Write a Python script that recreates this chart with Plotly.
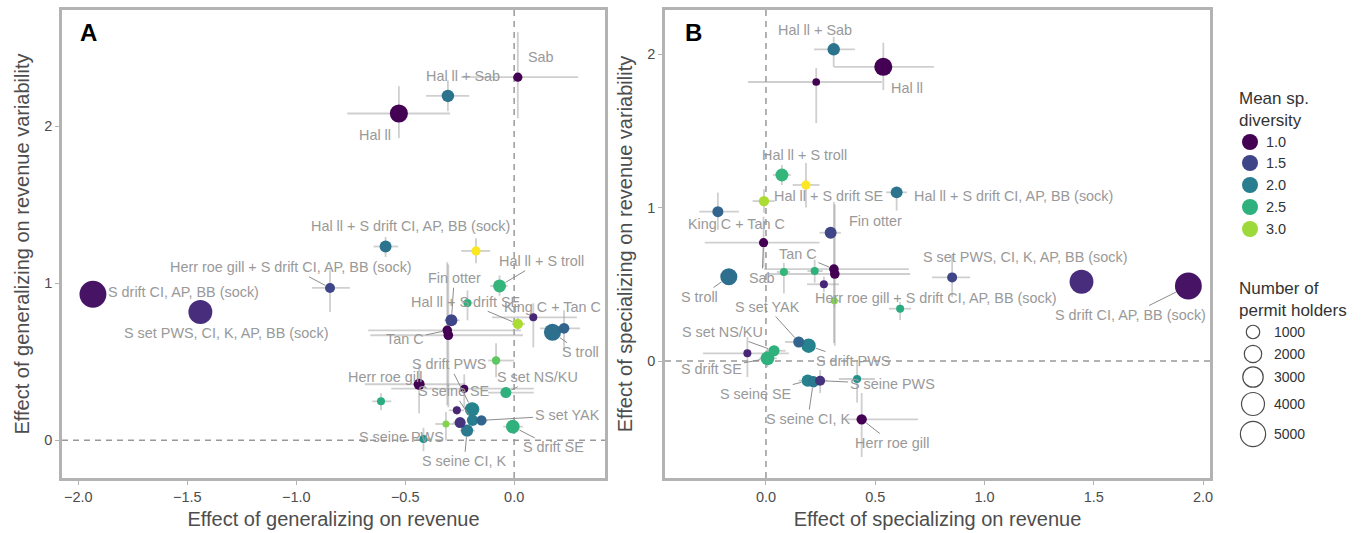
import numpy as np
import plotly.graph_objects as go

# ---------------- DATA ----------------
# Panel A: effect of generalizing
A_name = ["S drift CI, AP, BB (sock)", "S set PWS, CI, K, AP, BB (sock)",
          "Herr roe gill + S drift CI, AP, BB (sock)", "Hal ll", "Hal ll + Sab", "Sab",
          "Hal ll + S drift CI, AP, BB (sock)", "", "Hal ll + S troll", "", "Fin otter",
          "Hal ll + S drift SE", "", "S troll", "King C + Tan C", "Tan C", "", "S drift PWS",
          "", "Herr roe gill", "", "S set NS/KU", "", "", "S seine SE", "S set YAK", "", "",
          "S seine CI, K", "S drift SE", "S seine PWS"]
A_x = [-1.933, -1.440, -0.845, -0.529, -0.304, 0.017, -0.590, -0.175, -0.067, -0.214, -0.288,
       0.017, 0.088, 0.176, 0.229, -0.307, -0.302, -0.193, -0.083, -0.436, -0.229, -0.038,
       -0.611, -0.263, -0.191, -0.150, -0.248, -0.313, -0.216, -0.006, -0.416]
A_y = [0.930, 0.817, 0.970, 2.081, 2.193, 2.312, 1.234, 1.206, 0.983, 0.875, 0.764, 0.741,
       0.783, 0.688, 0.713, 0.700, 0.669, 0.197, 0.508, 0.357, 0.329, 0.304, 0.248, 0.191,
       0.127, 0.127, 0.113, 0.104, 0.062, 0.087, 0.008]
A_xlo = [-1.933, -1.440, -0.928, -0.766, -0.404, -0.243, -0.645, -0.243, -0.110, -0.240, -0.320,
         -0.010, -0.102, 0.176, 0.119, -0.670, -0.660, -0.220, -0.119, -0.685, -0.564, -0.120,
         -0.651, -0.300, -0.210, -0.180, -0.280, -0.362, -0.250, -0.050, -0.450]
A_xhi = [-1.933, -1.440, -0.754, -0.294, -0.206, 0.294, -0.532, -0.110, -0.030, -0.190, -0.250,
         0.050, 0.288, 0.176, 0.303, 0.032, 0.040, -0.160, 0.000, -0.225, 0.090, 0.090,
         -0.564, -0.230, -0.170, -0.120, -0.220, -0.257, -0.180, 0.040, -0.380]
A_ylo = [0.930, 0.817, 0.817, 1.924, 2.096, 2.051, 1.167, 1.127, 0.920, 0.764, 0.730, 0.700,
         0.592, 0.688, 0.573, 0.223, 0.210, 0.160, 0.401, 0.172, 0.210, 0.270, 0.191, 0.160,
         0.100, 0.100, 0.080, 0.000, 0.030, 0.050, -0.070]
A_yhi = [0.930, 0.817, 1.083, 2.255, 2.293, 2.599, 1.295, 1.287, 1.050, 0.955, 0.800, 0.780,
         0.873, 0.688, 0.828, 1.134, 1.120, 0.240, 0.618, 0.478, 0.420, 0.340, 0.299, 0.220,
         0.160, 0.150, 0.140, 0.180, 0.100, 0.120, 0.080]
A_div = [1.12, 1.30, 1.50, 1.00, 1.90, 1.00, 1.90, 3.35, 2.55, 2.50, 1.50, 3.05, 1.25, 1.85,
         1.75, 1.00, 1.00, 2.05, 2.75, 1.00, 1.05, 2.50, 2.45, 1.25, 2.00, 1.75, 1.35, 2.90,
         1.95, 2.50, 2.20]
A_n = [5800, 4400, 400, 2200, 800, 300, 700, 300, 900, 180, 700, 450, 180, 1900, 500, 350, 350,
       1200, 220, 550, 180, 550, 180, 180, 600, 450, 550, 100, 750, 1050, 180]

# Panel B: effect of specializing
B_name = ["S drift CI, AP, BB (sock)", "S set PWS, CI, K, AP, BB (sock)",
          "Herr roe gill + S drift CI, AP, BB (sock)", "Hal ll", "Hal ll + Sab", "",
          "Hal ll + S troll", "", "Hal ll + S drift CI, AP, BB (sock)", "Hal ll + S drift SE",
          "King C + Tan C", "Fin otter", "Sab", "Tan C", "", "", "", "S troll", "", "", "",
          "S set YAK", "S drift PWS", "", "S set NS/KU", "S drift SE", "S seine SE",
          "S seine CI, K", "S seine PWS", "", "Herr roe gill"]
B_x = [1.933, 1.444, 0.852, 0.537, 0.310, 0.230, 0.073, 0.183, 0.598, -0.009, -0.220, 0.296,
       -0.011, 0.311, 0.315, 0.082, 0.223, -0.170, 0.265, 0.313, 0.614, 0.150, 0.195, -0.085,
       0.037, 0.007, 0.191, 0.217, 0.248, 0.417, 0.438]
B_y = [0.489, 0.517, 0.545, 1.917, 2.031, 1.818, 1.212, 1.147, 1.099, 1.042, 0.973, 0.836,
       0.771, 0.599, 0.567, 0.580, 0.586, 0.549, 0.500, 0.393, 0.341, 0.124, 0.100, 0.050,
       0.067, 0.018, -0.128, -0.135, -0.128, -0.117, -0.380]
B_xlo = [1.933, 1.444, 0.760, 0.311, 0.220, -0.082, 0.032, 0.122, 0.550, -0.061, -0.305, 0.245,
         -0.280, -0.009, 0.000, 0.050, 0.190, -0.170, 0.188, 0.290, 0.563, 0.087, 0.170, -0.288,
         0.000, -0.030, 0.150, 0.190, 0.220, 0.334, 0.366]
B_xhi = [1.933, 1.444, 0.934, 0.769, 0.407, 0.531, 0.114, 0.245, 0.645, 0.040, -0.124, 0.343,
         0.245, 0.654, 0.660, 0.110, 0.260, -0.170, 0.334, 0.340, 0.664, 0.201, 0.220, 0.105,
         0.090, 0.050, 0.230, 0.250, 0.280, 0.499, 0.696]
B_ylo = [0.489, 0.517, 0.417, 1.765, 1.917, 1.550, 1.147, 1.000, 0.980, 0.964, 0.855, 0.800,
         0.610, 0.117, 0.100, 0.440, 0.510, 0.549, 0.450, 0.350, 0.267, 0.090, 0.060, -0.104,
         0.030, -0.040, -0.160, -0.170, -0.209, -0.270, -0.625]
B_yhi = [0.489, 0.517, 0.691, 2.074, 2.113, 1.909, 1.277, 1.290, 1.130, 1.120, 1.097, 0.870,
         0.940, 1.036, 1.020, 0.640, 0.660, 0.549, 0.550, 0.430, 0.384, 0.160, 0.140, 0.156,
         0.100, 0.080, -0.100, -0.100, -0.059, 0.007, -0.208]
B_div = [1.12, 1.30, 1.50, 1.00, 1.90, 1.00, 2.55, 3.35, 1.90, 3.05, 1.75, 1.50, 1.00, 1.00,
         1.00, 2.55, 2.50, 1.85, 1.25, 2.90, 2.45, 1.75, 2.05, 1.25, 2.50, 2.50, 2.05, 1.95,
         1.35, 2.20, 1.00]
B_n = [5800, 4400, 400, 2200, 800, 150, 900, 300, 700, 450, 550, 700, 300, 350, 350, 180, 180,
       1900, 180, 100, 180, 550, 1200, 180, 550, 1050, 750, 600, 400, 180, 450]

# Legend keys
DIV_KEYS = [1.0, 1.5, 2.0, 2.5, 3.0]
N_KEYS = [1000, 2000, 3000, 4000, 5000]

# ---------------- LABEL PLACEMENT (layout) ----------------
# point index -> (label x, label y, draw leader)
A_LAB = {0: (-1.518, 0.943, False), 1: (-1.321, 0.682, False), 2: (-1.023, 1.102, True),
         3: (-0.638, 1.943, False), 4: (-0.234, 2.318, False), 5: (0.124, 2.439, False),
         6: (-0.477, 1.363, False), 8: (0.124, 1.140, True), 10: (-0.275, 1.032, True),
         11: (-0.225, 0.882, True), 13: (0.303, 0.561, True), 14: (0.178, 0.852, False),
         15: (-0.500, 0.643, True), 17: (-0.298, 0.484, True), 19: (-0.592, 0.401, True),
         21: (0.106, 0.401, True), 24: (-0.280, 0.312, True), 25: (0.243, 0.159, True),
         28: (-0.229, -0.134, True), 29: (0.179, -0.045, True), 30: (-0.518, 0.019, False)}
B_LAB = {0: (1.666, 0.300, True), 1: (1.185, 0.678, False), 2: (0.778, 0.410, False),
         3: (0.645, 1.779, False), 4: (0.224, 2.156, False), 6: (0.178, 1.342, False),
         8: (1.135, 1.075, False), 9: (0.288, 1.075, False), 10: (-0.133, 0.893, False),
         11: (0.499, 0.912, False), 12: (-0.018, 0.541, True), 13: (0.146, 0.697, True),
         17: (-0.302, 0.417, True), 21: (0.005, 0.352, True), 22: (0.398, 0.000, True),
         24: (-0.201, 0.189, True), 25: (-0.247, -0.052, True), 26: (-0.046, -0.215, True),
         27: (0.192, -0.378, True), 28: (0.577, -0.150, True), 30: (0.577, -0.534, True)}

FONT = "Liberation Sans, Arial, Helvetica, sans-serif"
CMIN, CMAX = 1.0, 3.35
ERRC = "rgba(160,160,160,0.5)"
LABC = "#999999"
AXC = "#b3b3b3"
TXC = "#4d4d4d"
LAB_SIZE = 14.4


def dsize(n):
    return 4 + 0.3 * np.sqrt(np.asarray(n, dtype=float))


fig = go.Figure()
annotations = []
shapes = []

panels = [
    ("x", "y", A_name, A_x, A_y, A_xlo, A_xhi, A_ylo, A_yhi, A_div, A_n, A_LAB),
    ("x2", "y2", B_name, B_x, B_y, B_xlo, B_xhi, B_ylo, B_yhi, B_div, B_n, B_LAB),
]
for xa, ya, name, x, y, xlo, xhi, ylo, yhi, div, n, lab in panels:
    x = np.array(x); y = np.array(y)
    xlo = np.array(xlo); xhi = np.array(xhi); ylo = np.array(ylo); yhi = np.array(yhi)
    div = np.array(div); n = np.array(n)
    fig.add_trace(go.Scatter(
        x=x, y=y, mode="markers", xaxis=xa, yaxis=ya,
        marker=dict(size=1, opacity=0),
        error_x=dict(type="data", symmetric=False, array=xhi - x, arrayminus=x - xlo,
                     color=ERRC, thickness=1.8, width=0),
        error_y=dict(type="data", symmetric=False, array=yhi - y, arrayminus=y - ylo,
                     color=ERRC, thickness=1.8, width=0),
        hoverinfo="skip", showlegend=False))
    order = np.argsort(-n, kind="stable")
    fig.add_trace(go.Scatter(
        x=x[order], y=y[order], mode="markers", xaxis=xa, yaxis=ya,
        text=[name[i] for i in order],
        marker=dict(size=dsize(n[order]), color=div[order], colorscale="Viridis",
                    cmin=CMIN, cmax=CMAX, line=dict(width=0), opacity=1),
        showlegend=False))
    sizes = dsize(n)
    for i, (lx, ly, leader) in lab.items():
        a = dict(text=name[i], xref=xa, yref=ya,
                 font=dict(family=FONT, size=LAB_SIZE, color=LABC))
        if leader:
            a.update(x=x[i], y=y[i], ax=lx, ay=ly, axref=xa, ayref=ya, showarrow=True,
                     arrowhead=0, arrowwidth=1, arrowcolor="#8c8c8c",
                     standoff=sizes[i] / 2 + 0.5)
        else:
            a.update(x=lx, y=ly, showarrow=False)
        annotations.append(a)
    # dashed zero lines
    shapes.append(dict(type="line", xref=xa, yref=ya + " domain", x0=0, x1=0, y0=0, y1=1,
                       line=dict(color="#999999", width=1.5, dash="6px,5px"), layer="below"))
    shapes.append(dict(type="line", xref=xa + " domain", yref=ya, x0=0, x1=1, y0=0, y1=0,
                       line=dict(color="#999999", width=1.5, dash="6px,5px"), layer="below"))

# panel letters
annotations.append(dict(text="<b>A</b>", xref="x domain", yref="y domain", x=0.048, y=0.951,
                        xanchor="center", yanchor="middle", showarrow=False,
                        font=dict(family=FONT, size=24, color="black")))
annotations.append(dict(text="<b>B</b>", xref="x2 domain", yref="y2 domain", x=0.053, y=0.951,
                        xanchor="center", yanchor="middle", showarrow=False,
                        font=dict(family=FONT, size=24, color="black")))

# ---------------- LEGEND (axis 3 in screen pixels) ----------------
div_y = [142, 163, 185, 207, 229]
n_y = [332, 354, 377, 404, 434]
fig.add_trace(go.Scatter(
    x=[1250] * len(DIV_KEYS), y=div_y, mode="markers", xaxis="x3", yaxis="y3",
    marker=dict(size=16, color=DIV_KEYS, colorscale="Viridis", cmin=CMIN, cmax=CMAX,
                line=dict(width=0)), hoverinfo="skip", showlegend=False))
fig.add_trace(go.Scatter(
    x=[1253] * len(N_KEYS), y=n_y, mode="markers", xaxis="x3", yaxis="y3",
    marker=dict(size=dsize(N_KEYS), color="rgba(0,0,0,0)", line=dict(width=1.2, color="black")),
    hoverinfo="skip", showlegend=False))
legc = "#333333"
annotations.append(dict(text="Mean sp.<br>diversity", xref="x3", yref="y3", x=1237, y=87,
                        xanchor="left", yanchor="top", align="left", showarrow=False,
                        font=dict(family=FONT, size=17, color=legc)))
annotations.append(dict(text="Number of<br>permit holders", xref="x3", yref="y3", x=1237, y=277,
                        xanchor="left", yanchor="top", align="left", showarrow=False,
                        font=dict(family=FONT, size=17, color=legc)))
for v, yy in zip(DIV_KEYS, div_y):
    annotations.append(dict(text=f"{v:.1f}", xref="x3", yref="y3", x=1264, y=yy,
                            xanchor="left", showarrow=False,
                            font=dict(family=FONT, size=14.5, color=legc)))
for v, yy in zip(N_KEYS, n_y):
    annotations.append(dict(text=str(v), xref="x3", yref="y3", x=1272, y=yy,
                            xanchor="left", showarrow=False,
                            font=dict(family=FONT, size=14, color=legc)))

axis_common = dict(showline=True, mirror=True, linecolor=AXC, linewidth=2.5, ticks="outside",
                   ticklen=4, tickcolor=AXC, tickwidth=1, showgrid=False, zeroline=False,
                   tickfont=dict(family=FONT, size=14.5, color=TXC), automargin=False)
TITLE_FONT = dict(family=FONT, size=20, color=TXC)

fig.update_layout(
    width=1362, height=533, template="none",
    paper_bgcolor="white", plot_bgcolor="white",
    margin=dict(l=62, r=0, t=10, b=55),
    showlegend=False,
    font=dict(family=FONT),
    xaxis=dict(domain=[0, 543 / 1300], range=[-2.075, 0.417], tickvals=[-2, -1.5, -1, -0.5, 0],
               tickformat=".1f", anchor="y",
               title=dict(text="Effect of generalizing on revenue", standoff=8,
                          font=TITLE_FONT), **axis_common),
    yaxis=dict(domain=[0, 1], range=[-0.24, 2.74], tickvals=[0, 1, 2], anchor="x",
               title=dict(text="Effect of generalizing on revenue variability", standoff=10,
                          font=TITLE_FONT), **axis_common),
    xaxis2=dict(domain=[603 / 1300, 1148 / 1300], range=[-0.462, 2.032],
                tickvals=[0, 0.5, 1, 1.5, 2], tickformat=".1f", anchor="y2",
                title=dict(text="Effect of specializing on revenue", standoff=8,
                           font=TITLE_FONT), **axis_common),
    yaxis2=dict(domain=[0, 1], range=[-0.762, 2.287], tickvals=[0, 1, 2], anchor="x2",
                title=dict(text="Effect of specializing on revenue variability", standoff=10,
                           font=TITLE_FONT), **axis_common),
    xaxis3=dict(domain=[1150 / 1300, 1], range=[1212, 1362], visible=False, anchor="y3",
                fixedrange=True),
    yaxis3=dict(domain=[0, 1], range=[478, 10], visible=False, anchor="x3", fixedrange=True),
    annotations=annotations,
    shapes=shapes,
)

fig.write_html("out.html")
